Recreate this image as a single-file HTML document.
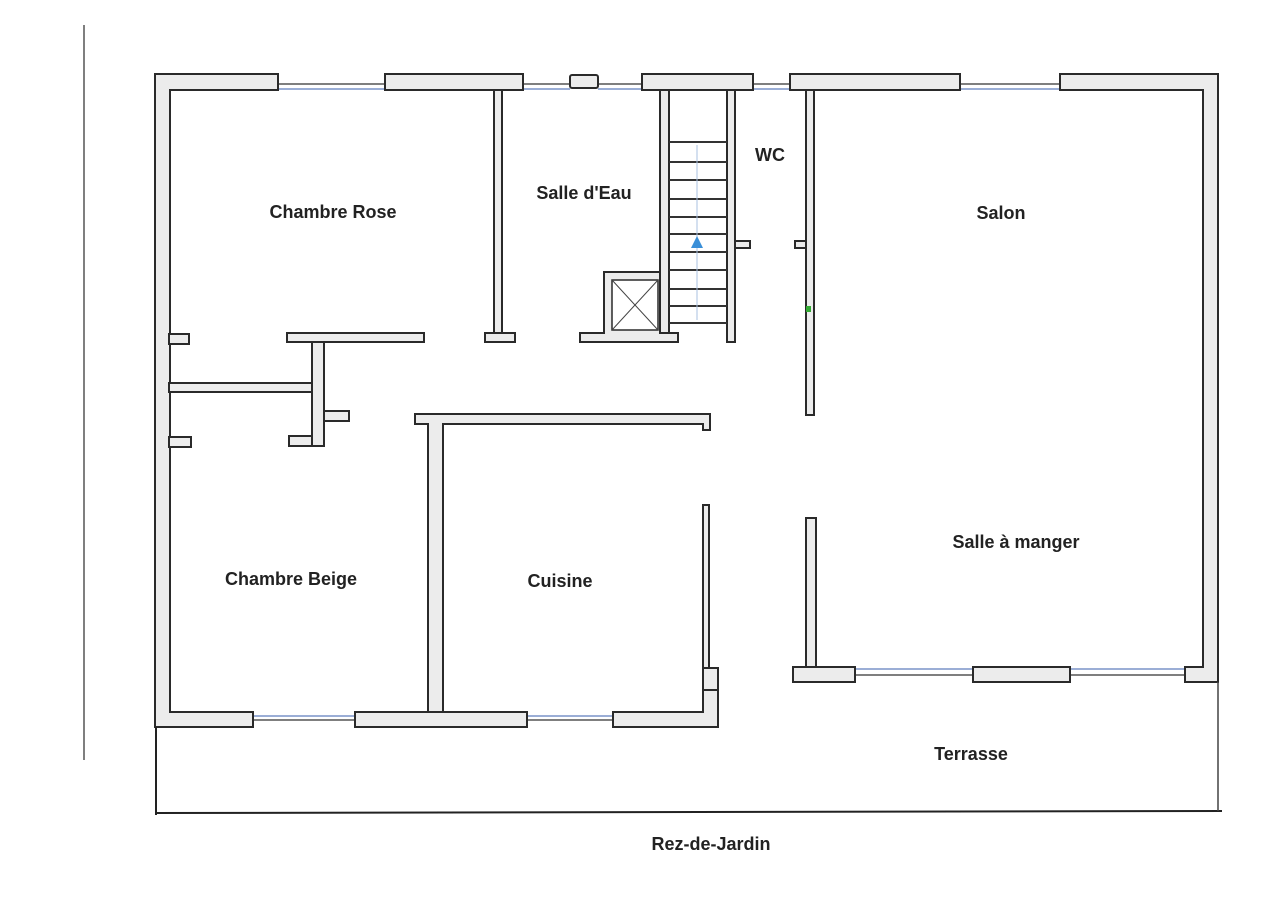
<!DOCTYPE html>
<html><head><meta charset="utf-8"><style>
html,body{margin:0;padding:0;background:#fff;}
svg{display:block;}
text{font-family:"Liberation Sans",sans-serif;font-weight:bold;font-size:18px;fill:#222;}
.w{fill:#ececec;stroke:#2a2a2a;stroke-width:2;}
.win{stroke:#555;stroke-width:1.5;}
.winb{stroke:#7a93c8;stroke-width:1.5;}
.l{stroke:#222;stroke-width:2;fill:none;}
</style></head><body>
<svg width="1280" height="905" viewBox="0 0 1280 905" xmlns="http://www.w3.org/2000/svg">
<rect width="1280" height="905" fill="#fff"/>
<!-- left margin line -->
<line x1="84" y1="25" x2="84" y2="760" stroke="#555" stroke-width="1.5"/>

<!-- top windows -->
<g>
<line class="win" x1="278" y1="84" x2="385" y2="84"/><line class="winb" x1="278" y1="89" x2="385" y2="89"/>
<line class="win" x1="523" y1="84" x2="570" y2="84"/><line class="winb" x1="523" y1="89" x2="570" y2="89"/>
<line class="win" x1="598" y1="84" x2="642" y2="84"/><line class="winb" x1="598" y1="89" x2="642" y2="89"/>
<line class="win" x1="753" y1="84" x2="790" y2="84"/><line class="winb" x1="753" y1="89" x2="790" y2="89"/>
<line class="win" x1="960" y1="84" x2="1060" y2="84"/><line class="winb" x1="960" y1="89" x2="1060" y2="89"/>
<!-- bottom windows -->
<line class="win" x1="253" y1="720" x2="355" y2="720"/><line class="winb" x1="253" y1="716" x2="355" y2="716"/>
<line class="win" x1="527" y1="720" x2="613" y2="720"/><line class="winb" x1="527" y1="716" x2="613" y2="716"/>
<line class="win" x1="855" y1="675" x2="973" y2="675"/><line class="winb" x1="855" y1="669" x2="973" y2="669"/>
<line class="win" x1="1070" y1="675" x2="1185" y2="675"/><line class="winb" x1="1070" y1="669" x2="1185" y2="669"/>
</g>

<!-- outer walls -->
<path class="w" d="M155 74 H278 V90 H170 V712 H253 V727 H155 Z"/>
<rect class="w" x="385" y="74" width="138" height="16"/>
<rect class="w" x="570" y="75" width="28" height="13" rx="2"/>
<rect class="w" x="642" y="74" width="111" height="16"/>
<rect class="w" x="790" y="74" width="170" height="16"/>
<path class="w" d="M1060 74 H1218 V682 H1185 V667 H1203 V90 H1060 Z"/>
<rect class="w" x="973" y="667" width="97" height="15"/>
<path class="w" d="M806 518 V667 H855 V682 H793 V667 H806 Z"/>
<rect class="w" x="806" y="518" width="10" height="149"/>
<rect class="w" x="355" y="712" width="172" height="15"/>
<path class="w" d="M613 712 H703 V690 H718 V727 H613 Z"/>

<!-- Chambre Rose right / Salle d'Eau left wall -->
<rect class="w" x="494" y="90" width="8" height="243"/>
<rect class="w" x="485" y="333" width="30" height="9"/>
<!-- Chambre Rose bottom wall -->
<rect class="w" x="287" y="333" width="137" height="9"/>
<rect class="w" x="169" y="334" width="20" height="10"/>
<!-- closet -->
<rect class="w" x="312" y="342" width="12" height="104"/>
<rect class="w" x="169" y="383" width="143" height="9"/>
<rect class="w" x="324" y="411" width="25" height="10"/>
<rect class="w" x="289" y="436" width="23" height="10"/>
<rect class="w" x="169" y="437" width="22" height="10"/>

<!-- stair left wall + shaft -->
<rect class="w" x="660" y="90" width="9" height="243"/>
<path class="w" d="M604 272 H660 V333 H678 V342 H580 V333 H604 Z"/>
<rect x="612" y="280" width="46" height="50" fill="#fff" stroke="#2a2a2a" stroke-width="1.5"/>
<line x1="612" y1="280" x2="658" y2="330" stroke="#444" stroke-width="1"/>
<line x1="658" y1="280" x2="612" y2="330" stroke="#444" stroke-width="1"/>
<!-- stair right wall -->
<rect class="w" x="727" y="90" width="8" height="252"/>
<rect class="w" x="735" y="241" width="15" height="7"/>
<!-- steps -->
<g stroke="#333" stroke-width="2">
<line x1="669" y1="142" x2="727" y2="142"/><line x1="669" y1="162" x2="727" y2="162"/>
<line x1="669" y1="180" x2="727" y2="180"/><line x1="669" y1="199" x2="727" y2="199"/>
<line x1="669" y1="217" x2="727" y2="217"/><line x1="669" y1="234" x2="727" y2="234"/>
<line x1="669" y1="252" x2="727" y2="252"/><line x1="669" y1="270" x2="727" y2="270"/>
<line x1="669" y1="289" x2="727" y2="289"/><line x1="669" y1="306" x2="727" y2="306"/>
<line x1="669" y1="323" x2="727" y2="323"/>
</g>
<line x1="697" y1="145" x2="697" y2="320" stroke="#a8c0e0" stroke-width="1"/>
<polygon points="697,236 691,248 703,248" fill="#3a8fd8"/>

<!-- WC right / Salon left wall -->
<rect class="w" x="806" y="90" width="8" height="325"/>
<rect class="w" x="795" y="241" width="11" height="7"/>
<rect x="806" y="306" width="5" height="6" fill="#3a3"/>

<!-- Cuisine -->
<path class="w" d="M415 414 H710 V430 H703 V424 H443 V712 H428 V424 H415 Z"/>
<rect class="w" x="703" y="505" width="6" height="163"/>
<rect class="w" x="703" y="668" width="15" height="22"/>

<!-- terrace lines -->
<line class="l" x1="156" y1="727" x2="156" y2="815"/>
<line class="l" x1="155" y1="813" x2="1222" y2="811"/>
<line x1="1218" y1="682" x2="1218" y2="811" stroke="#444" stroke-width="1.5"/>

<!-- labels -->
<text x="333" y="218" text-anchor="middle">Chambre Rose</text>
<text x="584" y="199" text-anchor="middle">Salle d'Eau</text>
<text x="770" y="161" text-anchor="middle">WC</text>
<text x="1001" y="219" text-anchor="middle">Salon</text>
<text x="1016" y="548" text-anchor="middle">Salle à manger</text>
<text x="291" y="585" text-anchor="middle">Chambre Beige</text>
<text x="560" y="587" text-anchor="middle">Cuisine</text>
<text x="971" y="760" text-anchor="middle">Terrasse</text>
<text x="711" y="850" text-anchor="middle">Rez-de-Jardin</text>
</svg>
</body></html>
